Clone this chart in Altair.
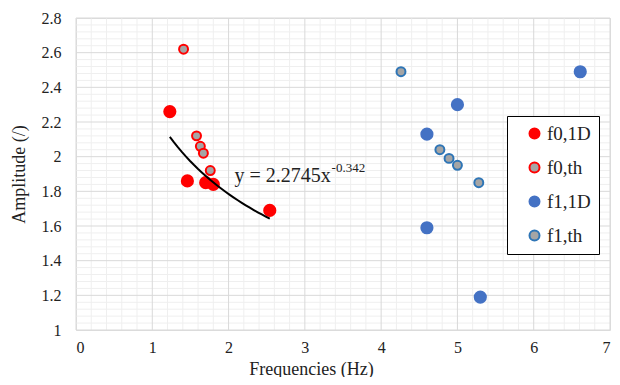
import altair as alt
import pandas as pd

# ---- data ----
series_names = ["f0,1D", "f0,th", "f1,1D", "f1,th"]
f0_1d_x = [1.23, 1.46, 1.70, 1.80, 2.54]
f0_1d_y = [2.26, 1.86, 1.85, 1.84, 1.69]
f0_th_x = [1.41, 1.58, 1.63, 1.67, 1.76]
f0_th_y = [2.62, 2.12, 2.06, 2.02, 1.92]
f1_1d_x = [6.61, 5.00, 4.60, 4.60, 5.30]
f1_1d_y = [2.49, 2.30, 2.13, 1.59, 1.19]
f1_th_x = [4.26, 4.77, 4.89, 5.00, 5.28]
f1_th_y = [2.49, 2.04, 1.99, 1.95, 1.85]

x_ticks = [0, 1, 2, 3, 4, 5, 6, 7]
y_ticks = [1.0, 1.2, 1.4, 1.6, 1.8, 2.0, 2.2, 2.4, 2.6, 2.8]
x_minor = [round(i * 0.2, 2) for i in range(36) if i % 5]
y_minor = [round(1 + i * 0.04, 2) for i in range(46) if i % 5]

eq_main = "y = 2.2745x"
eq_sup = "-0.342"
eq_pos = [3.34, 1.855]
eq_sup_pos = [3.35, 1.91]

FONT = "Liberation Serif"

rows = []
for name, xs, ys in [("f0,1D", f0_1d_x, f0_1d_y), ("f0,th", f0_th_x, f0_th_y),
                     ("f1,1D", f1_1d_x, f1_1d_y), ("f1,th", f1_th_x, f1_th_y)]:
    for a, b in zip(xs, ys):
        rows.append({"x": a, "y": b, "series": name})
df = pd.DataFrame(rows)

fill_range = ["#FF0000", "#A5A5A5", "#4472C4", "#A5A5A5"]
stroke_range = ["#FF0000", "#FF0000", "#4472C4", "#2E75B6"]

xscale = alt.Scale(domain=[0, 7], nice=False, zero=False)
yscale = alt.Scale(domain=[1, 2.8], nice=False, zero=False)

xaxis = alt.Axis(
    values=x_ticks, grid=False, ticks=False, domain=False,
    labelFont=FONT, labelFontSize=16, labelColor="#222222", labelPadding=9,
    title="Frequencies (Hz)", titleFont=FONT, titleFontSize=18, titleFontWeight="normal",
    titleColor="#222222", titleX=235, titleY=44, titleBaseline="alphabetic")
yaxis = alt.Axis(
    values=y_ticks, format=".1~f", grid=False, ticks=False, domain=False,
    labelFont=FONT, labelFontSize=16, labelColor="#222222", labelPadding=15,
    title="Amplitude (/)", titleFont=FONT, titleFontSize=18, titleFontWeight="normal",
    titleColor="#222222", titleX=-48)

X = lambda: alt.X("x:Q", scale=xscale, axis=xaxis)
Y = lambda: alt.Y("y:Q", scale=yscale, axis=yaxis)

vminor = alt.Chart(pd.DataFrame({"x": x_minor})).mark_rule(color="#EFEFEF", strokeWidth=1).encode(x=X())
hminor = alt.Chart(pd.DataFrame({"y": y_minor})).mark_rule(color="#EFEFEF", strokeWidth=1).encode(y=Y())
vmajor = alt.Chart(pd.DataFrame({"x": x_ticks})).mark_rule(color="#D9D9D9", strokeWidth=1).encode(x=X())
hmajor = alt.Chart(pd.DataFrame({"y": y_ticks})).mark_rule(color="#D9D9D9", strokeWidth=1).encode(y=Y())

points = alt.Chart(df).mark_point(filled=True, strokeWidth=2, opacity=1).encode(
    x=X(), y=Y(),
    fill=alt.Fill("series:N", scale=alt.Scale(domain=series_names, range=fill_range),
                  legend=alt.Legend(title=None, orient="none", legendX=431, legendY=98,
                                    strokeColor="#000000", fillColor="#FFFFFF", padding=8,
                                    rowPadding=14, symbolSize=100, symbolStrokeWidth=2,
                                    symbolOffset=10, labelOffset=3, labelFont=FONT,
                                    labelFontSize=19, labelColor="#222222",
                                    labelExpr="datum.label + '\u00a0\u00a0'")),
    stroke=alt.Stroke("series:N", scale=alt.Scale(domain=series_names, range=stroke_range)),
    size=alt.condition(alt.FieldOneOfPredicate(field="series", oneOf=["f0,1D", "f1,1D"]),
                       alt.value(125), alt.value(80)),
)

trend = alt.Chart(df).transform_filter(alt.datum.series == "f0,1D").transform_regression(
    "x", "y", method="pow"
).mark_line(color="#000000", strokeWidth=2).encode(x=X(), y=Y())

eq_df = pd.DataFrame([{"x": eq_pos[0], "y": eq_pos[1], "t": eq_main}])
sup_df = pd.DataFrame([{"x": eq_sup_pos[0], "y": eq_sup_pos[1], "t": eq_sup}])
eq = alt.Chart(eq_df).mark_text(align="right", baseline="alphabetic", font=FONT,
                                fontSize=20, color="#222222").encode(x=X(), y=Y(), text="t:N")
sup = alt.Chart(sup_df).mark_text(align="left", baseline="alphabetic", font=FONT,
                                  fontSize=13, color="#222222").encode(x=X(), y=Y(), text="t:N")

chart = alt.layer(vminor, hminor, vmajor, hmajor, points, trend, eq, sup).properties(
    width=534, height=312,
    autosize=alt.AutoSizeParams(type="none"),
    padding={"left": 68, "top": 10, "right": 2, "bottom": 47},
).configure_view(stroke="#D9D9D9", strokeWidth=1).configure_axis(
    labelFont=FONT, titleFont=FONT
).configure_legend(labelFont=FONT).configure(background="#FFFFFF", font=FONT)

chart.save("out.html", embed_options={"renderer": "svg", "actions": False})
